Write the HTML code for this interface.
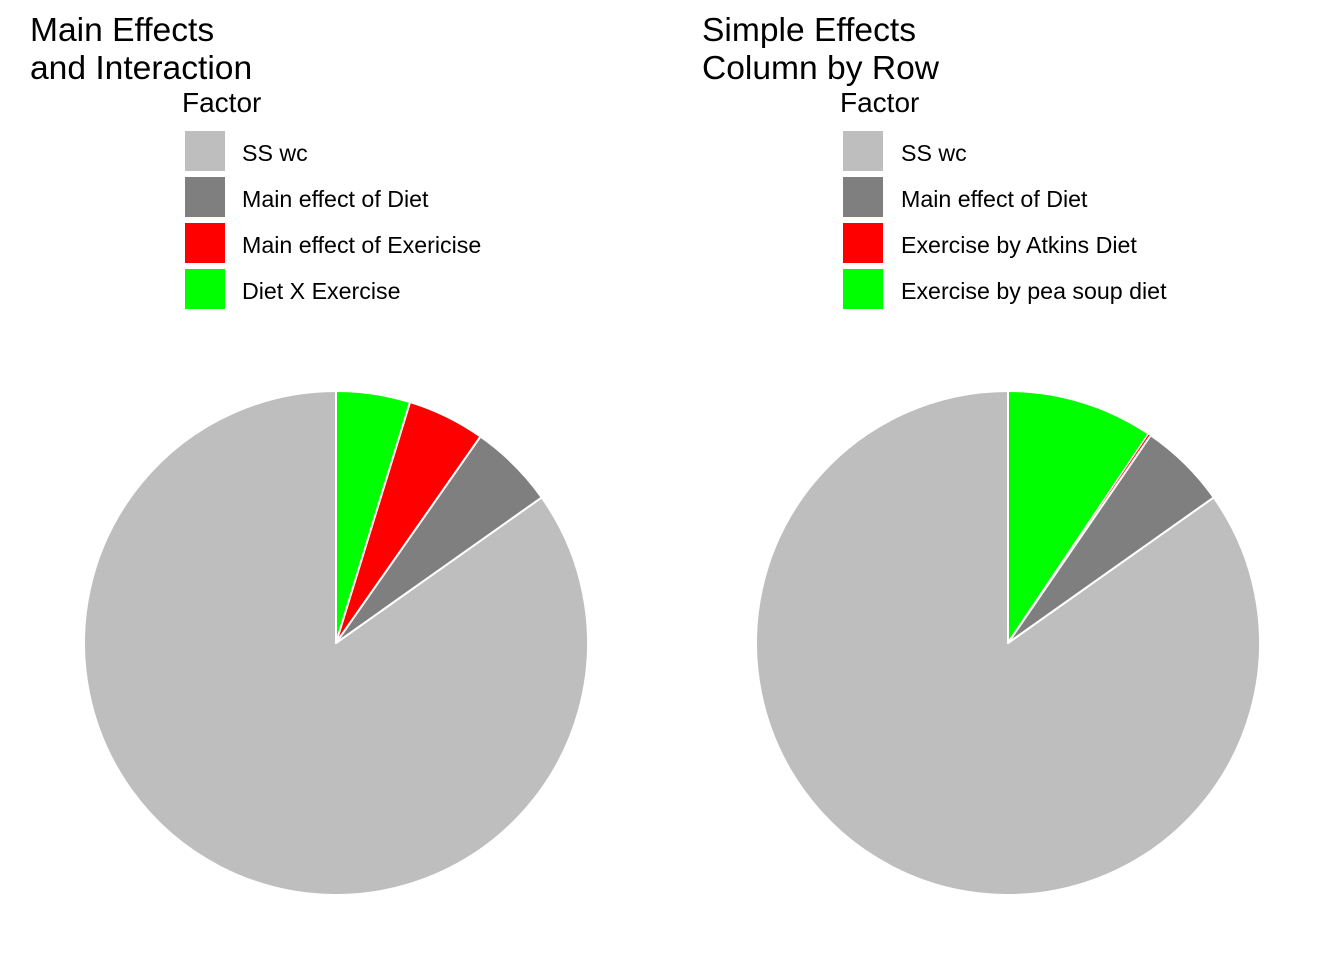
<!DOCTYPE html>
<html><head><style>body{margin:0;background:#fff}</style></head><body>
<svg width="1344" height="960" xmlns="http://www.w3.org/2000/svg" font-family="Liberation Sans, Arial, sans-serif">
<rect width="1344" height="960" fill="#fff"/>
<g font-size="33.6" fill="#000">
<text x="30" y="41">Main Effects</text><text x="30" y="79">and Interaction</text>
<text x="702" y="41">Simple Effects</text><text x="702" y="79">Column by Row</text>
</g>
<g font-size="28"><text x="182" y="112">Factor</text><text x="840" y="112">Factor</text></g>
<g>
<rect x="185" y="131" width="40" height="40" fill="#bebebe"/>
<rect x="185" y="177" width="40" height="40" fill="#7f7f7f"/>
<rect x="185" y="223" width="40" height="40" fill="#ff0000"/>
<rect x="185" y="269" width="40" height="40" fill="#00ff00"/>
<rect x="843" y="131" width="40" height="40" fill="#bebebe"/>
<rect x="843" y="177" width="40" height="40" fill="#7f7f7f"/>
<rect x="843" y="223" width="40" height="40" fill="#ff0000"/>
<rect x="843" y="269" width="40" height="40" fill="#00ff00"/>
</g>
<g font-size="23.2">
<text x="242" y="161">SS wc</text><text x="242" y="207">Main effect of Diet</text>
<text x="242" y="253">Main effect of Exericise</text><text x="242" y="299">Diet X Exercise</text>
<text x="901" y="161">SS wc</text><text x="901" y="207">Main effect of Diet</text>
<text x="901" y="253">Exercise by Atkins Diet</text><text x="901" y="299">Exercise by pea soup diet</text>
</g>
<g stroke="#fff" stroke-width="2" stroke-linejoin="round">
<path d="M336,643 L541.7,497.4 A252,252 0 1 1 336,391 Z" fill="#bebebe"/>
<path d="M336,643 L336,391 A252,252 0 0 1 410.1,402.1 Z" fill="#00ff00"/>
<path d="M336,643 L410.1,402.1 A252,252 0 0 1 480.5,436.6 Z" fill="#ff0000"/>
<path d="M336,643 L480.5,436.6 A252,252 0 0 1 541.7,497.4 Z" fill="#7f7f7f"/>
<path d="M1008,643 L1213.7,497.4 A252,252 0 1 1 1008,391 Z" fill="#bebebe"/>
<path d="M1008,643 L1008,391 A252,252 0 0 1 1148.5,433.8 Z" fill="#00ff00"/>
<path d="M1008,643 L1148.5,433.8 A252,252 0 0 1 1150.7,435.3 Z" fill="#ff0000" stroke-width="1"/>
<path d="M1008,643 L1150.7,435.3 A252,252 0 0 1 1213.7,497.4 Z" fill="#7f7f7f"/>
</g>
</svg>
</body></html>
